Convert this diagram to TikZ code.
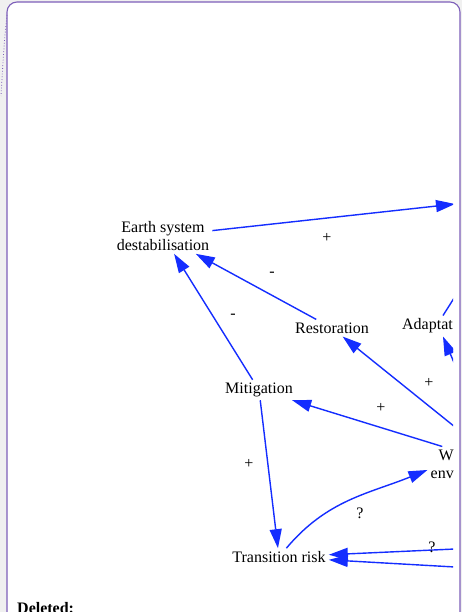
\documentclass[tikz,border=0pt]{standalone}
\usepackage{fontspec}
\setmainfont{Liberation Serif}
\usetikzlibrary{arrows.meta,positioning}
\definecolor{linkblue}{RGB}{20,45,255}
\definecolor{boxpurple}{RGB}{125,95,185}
\definecolor{pagegrey}{RGB}{240,240,240}
\tikzstyle{concept}=[font=\fontsize{16}{18}\selectfont,align=center,inner sep=3pt]
\tikzstyle{sign}=[font=\fontsize{16}{18}\selectfont,inner sep=0pt]
\tikzstyle{link}=[draw=linkblue,line width=1.4pt,-{Triangle[length=19pt,width=12pt]}]

\begin{document}
\begin{tikzpicture}[x=1pt,y=1pt]
        \useasboundingbox (0,-612) rectangle (462,0);
        \clip (0,-612) rectangle (462,0);
        \fill[pagegrey] (0,-612) rectangle (462,0);
        \filldraw[fill=white,draw=boxpurple,line width=1.1pt,rounded corners=10pt]
          (7,-640) -- (7,-2) -- (460,-2) -- (460,-640);
        \draw[boxpurple,dotted,line width=0.8pt] (7,-15) .. controls (4,-45) .. (1,-96);

        \node[font=\fontsize{16}{18}\selectfont\bfseries,anchor=base west,inner sep=0pt] (deleted) at (17,-613) {Deleted:};

        \begin{scope}
        \clip (8,-3) rectangle (453,-612);

        \node[concept] at (163,-236) (earth) {Earth system\\destabilisation};
        \node[concept] at (332,-328) (restoration) {Restoration};
        \node[concept,anchor=east] at (456,-326) (adapt) {Adaptat};
        \node[concept] at (259,-390) (mitigation) {Mitigation};
        \node[concept,align=right,anchor=east] at (457,-464) (wenv) {W\\env};
        \node[concept] at (279,-557) (transition) {Transition risk};

        \coordinate (offtop) at (455,-204);
        \coordinate (offadtop) at (456,-295);
        \coordinate (offadbot) at (455,-365);
        \coordinate (offres) at (455,-427);
        \coordinate (offq) at (455,-549);
        \coordinate (offlow) at (455,-567);

        \draw[link] (earth) -- (offtop);
        \draw[link] (restoration) -- (earth);
        \draw[link] (mitigation) -- (earth);
        \draw[link] (offres) -- (restoration);
        \draw[link] (wenv.north) -- (mitigation);
        \draw[link] (mitigation) -- (transition);
        \draw[link] (transition) to[out=50,in=202] (wenv);
        \draw[link] (offq) -- (transition);
        \draw[link] (offlow) -- (transition);
        \draw[link] (offadbot) -- (adapt.-34);
        \draw[draw=linkblue,line width=1.4pt] (adapt.34) -- (offadtop);

        \node[sign] at (327,-238) (plus1) {+};
        \node[sign] at (272,-274) (minus1) {-};
        \node[sign] at (233,-316) (minus2) {-};
        \node[sign] at (429,-383) (plus2) {+};
        \node[sign] at (381,-408) (plus3) {+};
        \node[sign] at (249,-464) (plus4) {+};
        \node[sign] at (360,-513) (query1) {?};
        \node[sign] at (432,-547) (query2) {?};
        \end{scope}
      \end{tikzpicture}
\end{document}
